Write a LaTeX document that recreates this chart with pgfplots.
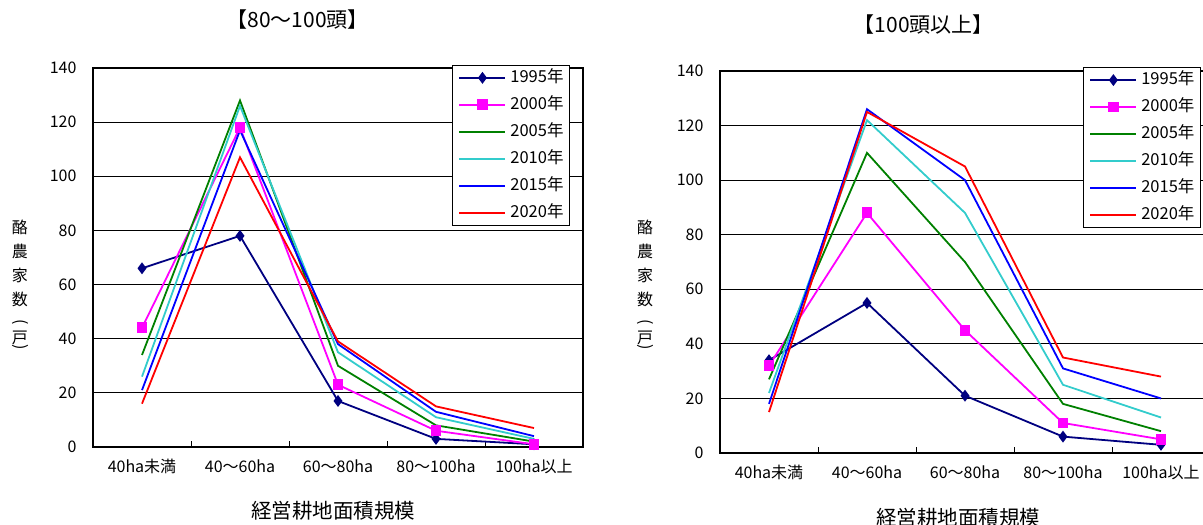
\documentclass[border=0pt]{standalone}
\usepackage{fontspec}
\setmainfont{Noto Sans CJK JP}
\usepackage{pgfplots}
\pgfplotsset{compat=1.18}
\definecolor{c95}{HTML}{000080}
\definecolor{c00}{HTML}{FF00FF}
\definecolor{c05}{HTML}{008000}
\definecolor{c10}{HTML}{33CCCC}
\definecolor{c15}{HTML}{0000FF}
\definecolor{c20}{HTML}{FF0000}
\pgfplotsset{mychart/.style={
  scale only axis, width=490pt,
  xmin=-0.5, xmax=4.5, ymin=0, ymax=140,
  xtick={0,1,2,3,4},
  xticklabels={40ha未満,40～60ha,60～80ha,80～100ha,100ha以上},
  minor xtick={0.5,1.5,2.5,3.5},
  ytick={0,20,...,140},
  ymajorgrids, grid style={black, line width=0.8pt},
  major tick length=0pt, minor tick length=6pt,
  minor tick style={black, line width=0.8pt},
  tick pos=left, tick align=inside,
  axis line style={black, line width=1.2pt},
  /pgf/number format/assume math mode=true,
  tick label style={font=\fontsize{16}{18}\selectfont, text=black},
  yticklabel style={xshift=-13pt},
  xticklabel style={yshift=-9pt},
  clip=false,
  legend cell align=left,
  legend image code/.code={\draw[mark repeat=2,mark phase=2,##1] plot coordinates {(0pt,0pt)(23pt,0pt)(46pt,0pt)};},
  legend style={anchor=north west, draw=black, line width=0.8pt, fill=white,
    font=\fontsize{16.5}{18}\selectfont, row sep=14pt, column sep=4pt,
    inner xsep=6pt, inner ysep=6pt,
    nodes={inner sep=0pt, text height=11pt, text depth=2pt, line width=1.8pt}},
  every axis plot/.append style={line width=1.8pt},
  xlabel={経営耕地面積規模},
  ylabel={酪\\農\\家\\数\\[-2pt]\rotatebox[origin=c]{-90}{(}\\[-8pt]戸\\[-15pt]\rotatebox[origin=c]{-90}{)}},
  title style={anchor=center, font=\fontsize{21}{22}\selectfont},
  xlabel style={anchor=center, font=\fontsize{20.5}{22}\selectfont},
  ylabel style={rotate=-90, anchor=center, align=center, font=\fontsize{16}{24}\selectfont},
}}
\begin{document}
\begin{tikzpicture}
\begin{axis}[mychart, at={(93pt,78pt)}, anchor=south west, height=379pt,
  title={【80～100頭】},
  title style={at={(axis description cs:0.418,1.113)}},
  xlabel style={at={(axis description cs:0.49,-0.169)}},
  ylabel style={at={(axis description cs:-0.149,0.425)}},
  legend style={at={(axis description cs:0.733,1.008)}}]
\addplot[c95, mark=diamond*, mark size=4.5pt, mark options={solid, fill=c95}] coordinates {(0,66)(1,78)(2,17)(3,3)(4,1)};
\addplot[c00, mark=square*, mark size=4.5pt, mark options={solid, fill=c00}] coordinates {(0,44)(1,118)(2,23)(3,6)(4,1)};
\addplot[c05] coordinates {(0,34)(1,128)(2,30)(3,8)(4,2)};
\addplot[c10] coordinates {(0,26)(1,126)(2,35)(3,11)(4,3)};
\addplot[c15] coordinates {(0,21)(1,117)(2,38)(3,13)(4,4)};
\addplot[c20] coordinates {(0,16)(1,107)(2,39)(3,15)(4,7)};
\legend{1995年,2000年,2005年,2010年,2015年,2020年}
\end{axis}
\begin{axis}[mychart, at={(720pt,72pt)}, anchor=south west, height=382pt,
  title={【100頭以上】},
  title style={at={(axis description cs:0.416,1.107)}},
  xlabel style={at={(axis description cs:0.486,-0.170)}},
  ylabel style={at={(axis description cs:-0.153,0.437)}},
  legend style={at={(axis description cs:0.741,1.010)}}]
\addplot[c95, mark=diamond*, mark size=4.5pt, mark options={solid, fill=c95}] coordinates {(0,34)(1,55)(2,21)(3,6)(4,3)};
\addplot[c00, mark=square*, mark size=4.5pt, mark options={solid, fill=c00}] coordinates {(0,32)(1,88)(2,45)(3,11)(4,5)};
\addplot[c05] coordinates {(0,27)(1,110)(2,70)(3,18)(4,8)};
\addplot[c10] coordinates {(0,22)(1,122)(2,88)(3,25)(4,13)};
\addplot[c15] coordinates {(0,18)(1,126)(2,100)(3,31)(4,20)};
\addplot[c20] coordinates {(0,15)(1,125)(2,105)(3,35)(4,28)};
\legend{1995年,2000年,2005年,2010年,2015年,2020年}
\end{axis}
\pgfresetboundingbox
\path[use as bounding box] (0pt,0pt) rectangle (1203pt,525pt);
\end{tikzpicture}
\end{document}
